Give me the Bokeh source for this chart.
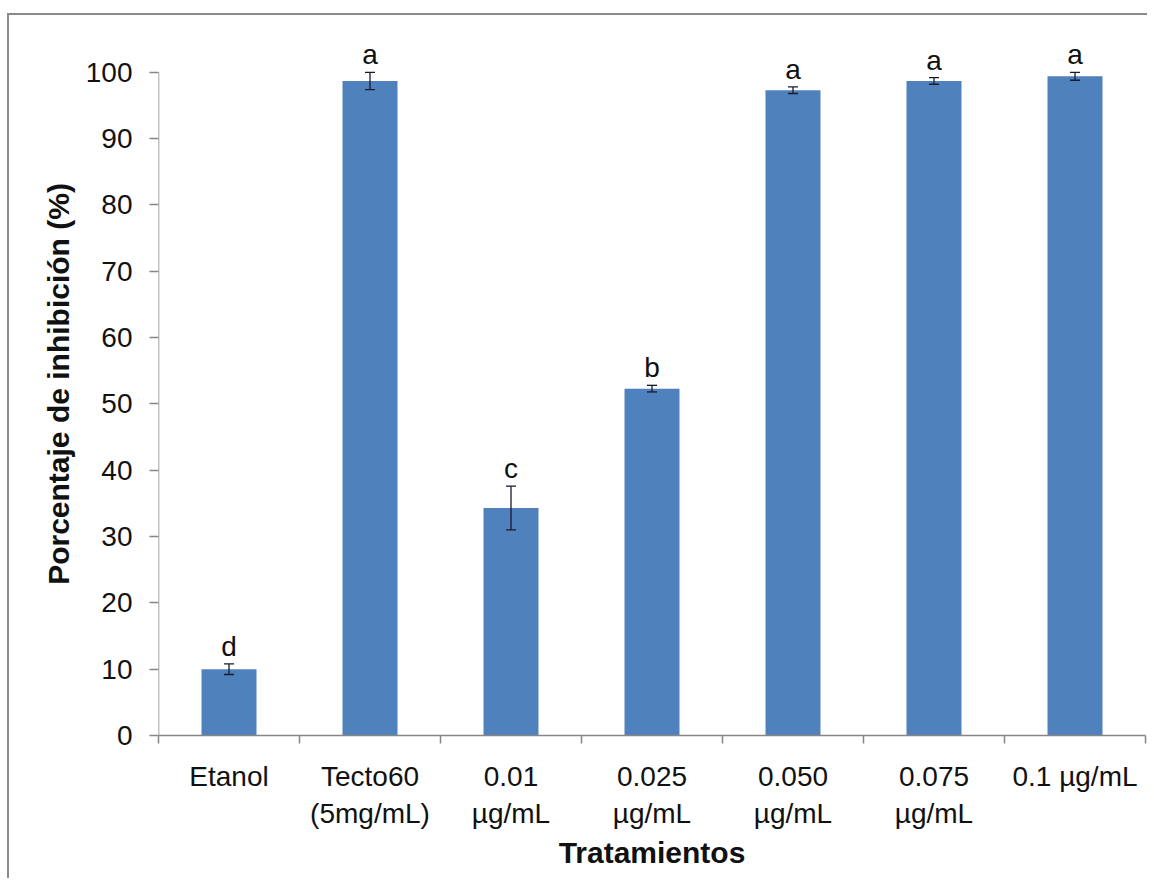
from bokeh.plotting import figure
from bokeh.models import (ColumnDataSource, FixedTicker, LabelSet, Whisker,
                          TeeHead, Range1d)
from bokeh.core.properties import value
from bokeh.embed import file_html
from bokeh.resources import INLINE

categories = ["Etanol", "Tecto60\n(5mg/mL)", "0.01\nµg/mL", "0.025\nµg/mL",
              "0.050\nµg/mL", "0.075\nµg/mL", "0.1 µg/mL"]
values = [10.0, 98.7, 34.3, 52.3, 97.3, 98.7, 99.4]
errors = [0.8, 1.3, 3.3, 0.5, 0.5, 0.5, 0.6]
letters = ["d", "a", "c", "b", "a", "a", "a"]
y_ticks = [0, 10, 20, 30, 40, 50, 60, 70, 80, 90, 100]

FONT = "Liberation Sans"
AX = "#868686"
BAR = "#4F81BD"
TXT = "#111111"

n = len(categories)
xs = [i + 0.5 for i in range(n)]
src = ColumnDataSource(dict(
    x=xs, top=values,
    upper=[v + e for v, e in zip(values, errors)],
    lower=[v - e for v, e in zip(values, errors)],
    lab=letters,
    laby=[v + e + 1.2 for v, e in zip(values, errors)],
))

p = figure(frame_width=987, frame_height=703,
           min_border_left=149, min_border_right=2,
           min_border_top=17, min_border_bottom=143,
           x_range=Range1d(0, n), y_range=Range1d(0, 106),
           output_backend="svg", toolbar_location=None)
p.styles = {"border-top": "2px solid #8a8a8a", "border-left": "2px solid #8a8a8a",
            "margin-left": "7px", "margin-top": "13px"}
p.outline_line_color = None
p.xgrid.visible = False
p.ygrid.visible = False
p.background_fill_color = "white"
p.border_fill_color = "white"

p.vbar(x="x", top="top", bottom=0, width=0.39, source=src,
       fill_color=BAR, line_color=None)

p.add_layout(Whisker(base="x", upper="upper", lower="lower", source=src,
                     level="overlay",
                     line_color="#1a1a2e", line_width=1.3,
                     upper_head=TeeHead(size=10, line_color="#1a1a2e", line_width=1.3),
                     lower_head=TeeHead(size=10, line_color="#1a1a2e", line_width=1.3)))

p.add_layout(LabelSet(x="x", y="laby", text="lab", source=src, level="overlay",
                      text_align="center", text_baseline="alphabetic",
                      text_font=value(FONT), text_font_size="28px", text_color=TXT))

# y axis
p.yaxis.ticker = FixedTicker(ticks=y_ticks)
p.yaxis.axis_line_color = None
p.yaxis.major_tick_line_color = AX
p.yaxis.major_tick_line_width = 1.5
p.yaxis.major_tick_in = 0
p.yaxis.major_tick_out = 9
p.yaxis.minor_tick_line_color = None
p.yaxis.major_label_text_font = FONT
p.yaxis.major_label_text_font_size = "28px"
p.yaxis.major_label_text_color = TXT
p.yaxis.major_label_standoff = 17
p.yaxis.axis_label = "Porcentaje de inhibición (%)"
p.yaxis.axis_label_text_font = FONT
p.yaxis.axis_label_text_font_size = "30px"
p.yaxis.axis_label_text_font_style = "bold"
p.yaxis.axis_label_text_color = TXT
p.yaxis.axis_label_standoff = 8

# y axis line only from 0 to 100
p.segment(x0=[0], y0=[y_ticks[0]], x1=[0], y1=[y_ticks[-1]], line_color=AX, line_width=1.5)

# x axis: labels at category centres, tick marks at category boundaries
p.xaxis.ticker = FixedTicker(ticks=xs, minor_ticks=list(range(n + 1)))
p.xaxis.major_label_overrides = {x: c for x, c in zip(xs, categories)}
p.xaxis.axis_line_color = AX
p.xaxis.axis_line_width = 1.5
p.xaxis.major_tick_line_color = None
p.xaxis.major_tick_in = 0
p.xaxis.major_tick_out = 0
p.xaxis.minor_tick_line_color = AX
p.xaxis.minor_tick_line_width = 1.5
p.xaxis.minor_tick_in = 0
p.xaxis.minor_tick_out = 8
p.xaxis.major_label_text_font = FONT
p.xaxis.major_label_text_font_size = "28px"
p.xaxis.major_label_text_color = TXT
p.xaxis.major_label_text_align = "center"
p.xaxis.major_label_standoff = 17
p.xaxis.axis_label = "Tratamientos"
p.xaxis.axis_label_text_font = FONT
p.xaxis.axis_label_text_font_size = "30px"
p.xaxis.axis_label_text_font_style = "bold"
p.xaxis.axis_label_text_color = TXT
p.xaxis.axis_label_standoff = 4

open("out.html", "w").write(file_html(p, INLINE))
